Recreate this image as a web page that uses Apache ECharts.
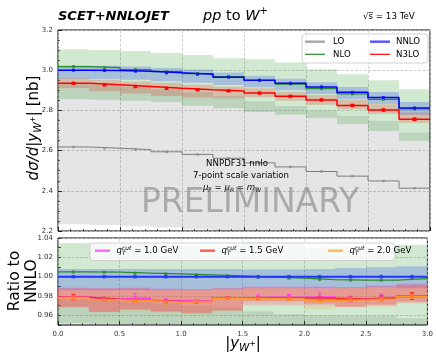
<!DOCTYPE html>
<html>
<head>
<meta charset="utf-8">
<script src="https://cdn.jsdelivr.net/npm/echarts@6/dist/echarts.min.js"></script>
<style>
  html, body { margin: 0; padding: 0; background: #fff; }
  #chart { width: 436px; height: 353px; }
</style>
</head>
<body>
<div id="chart"></div>
<script>
// |y_W+| bins
const binEdges = [0, 0.25, 0.5, 0.75, 1.0, 1.25, 1.5, 1.75, 2.0, 2.25, 2.5, 2.75, 3.0];

// upper panel: dsigma/d|y| [nb], central values and 7-point scale bands
const lo     = [2.618, 2.612, 2.605, 2.594, 2.581, 2.562, 2.539, 2.519, 2.496, 2.473, 2.449, 2.413];
const loUp   = [2.930, 2.925, 2.918, 2.905, 2.890, 2.870, 2.845, 2.822, 2.800, 2.773, 2.748, 2.690];
const loDn   = [2.234, 2.230, 2.224, 2.217, 2.208, 2.190, 2.170, 2.150, 2.130, 2.110, 2.090, 2.060];
const nlo    = [3.018, 3.013, 3.003, 2.993, 2.983, 2.968, 2.949, 2.931, 2.908, 2.882, 2.855, 2.807];
const nloUp  = [3.104, 3.101, 3.096, 3.085, 3.076, 3.060, 3.055, 3.038, 3.005, 2.980, 2.950, 2.905];
const nloDn  = [2.856, 2.853, 2.848, 2.840, 2.823, 2.811, 2.792, 2.778, 2.762, 2.731, 2.698, 2.648];
const nnlo   = [3.000, 2.998, 2.995, 2.987, 2.980, 2.965, 2.950, 2.935, 2.917, 2.890, 2.864, 2.812];
const nnloUp = [3.024, 3.022, 3.019, 3.011, 3.004, 2.989, 2.972, 2.957, 2.940, 2.916, 2.892, 2.842];
const nnloDn = [2.958, 2.956, 2.953, 2.945, 2.938, 2.926, 2.915, 2.900, 2.882, 2.855, 2.832, 2.778];
const n3lo   = [2.935, 2.927, 2.919, 2.910, 2.903, 2.897, 2.886, 2.870, 2.852, 2.825, 2.802, 2.756];
const n3loUp = [2.960, 2.953, 2.944, 2.937, 2.928, 2.919, 2.910, 2.893, 2.876, 2.852, 2.830, 2.789];
const n3loDn = [2.910, 2.895, 2.884, 2.872, 2.864, 2.861, 2.866, 2.848, 2.828, 2.806, 2.783, 2.739];
const n3loErr = [0.004, 0.004, 0.004, 0.004, 0.004, 0.003, 0.004, 0.004, 0.004, 0.004, 0.005, 0.006];

// lower panel: ratio to NNLO
const loRUp   = [0.977, 0.9757, 0.974, 0.9725, 0.970, 0.968, 0.964, 0.961, 0.960, 0.9595, 0.9595, 0.957];
const loRDn   = [0.745, 0.744, 0.743, 0.742, 0.741, 0.739, 0.736, 0.733, 0.730, 0.730, 0.730, 0.733];
const nloR    = [1.0049, 1.0046, 1.0037, 1.0028, 1.0018, 1.0008, 0.9995, 0.9985, 0.9970, 0.9964, 0.9964, 0.9980];
const nloRUp  = [1.0347, 1.0344, 1.0337, 1.0328, 1.0322, 1.0320, 1.0356, 1.0351, 1.0302, 1.0311, 1.0300, 1.0331];
const nloRDn  = [0.9520, 0.9516, 0.9510, 0.9510, 0.9473, 0.9480, 0.9464, 0.9465, 0.9480, 0.9450, 0.9420, 0.9420];
const nnloR   = [1, 1, 1, 1, 1, 1, 1, 1, 1, 1, 1, 1];
const nnloRUp = [1.008, 1.008, 1.008, 1.008, 1.008, 1.008, 1.0075, 1.0075, 1.008, 1.009, 1.0097, 1.0107];
const nnloRDn = [0.986, 0.986, 0.986, 0.986, 0.986, 0.987, 0.988, 0.988, 0.988, 0.988, 0.989, 0.988];

// N3LO / NNLO for three qT-cut values
const q10R    = [0.9788, 0.9768, 0.9779, 0.9752, 0.9745, 0.9779, 0.9786, 0.9786, 0.9790, 0.9769, 0.9786, 0.9796];
const q10Err  = [0.0030, 0.0020, 0.0045, 0.0020, 0.0020, 0.0012, 0.0025, 0.0030, 0.0040, 0.0030, 0.0035, 0.0030];
const q10RUp  = [0.989, 0.988, 0.989, 0.988, 0.987, 0.988, 0.990, 0.990, 0.990, 0.989, 0.991, 0.993];
const q10RDn  = [0.968, 0.964, 0.966, 0.964, 0.963, 0.965, 0.971, 0.971, 0.970, 0.969, 0.970, 0.973];
const q15R    = [0.9786, 0.9766, 0.9757, 0.9742, 0.9744, 0.9779, 0.9779, 0.9779, 0.9778, 0.9769, 0.9779, 0.9800];
const q15Err  = [0.0028, 0.0020, 0.0020, 0.0020, 0.0015, 0.0012, 0.0015, 0.0020, 0.0020, 0.0020, 0.0025, 0.0035];
const q15RUp  = [0.988, 0.988, 0.988, 0.987, 0.987, 0.988, 0.989, 0.989, 0.989, 0.989, 0.990, 0.992];
const q15RDn  = [0.969, 0.9635, 0.966, 0.964, 0.962, 0.965, 0.9745, 0.9745, 0.972, 0.969, 0.971, 0.974];
const q20R    = [0.9781, 0.9760, 0.9752, 0.9737, 0.9744, 0.9776, 0.9772, 0.9772, 0.9751, 0.9762, 0.9769, 0.9796];
const q20Err  = [0.0020, 0.0015, 0.0020, 0.0020, 0.0015, 0.0010, 0.0015, 0.0020, 0.0020, 0.0020, 0.0020, 0.0020];
const q20RUp  = [0.987, 0.986, 0.986, 0.986, 0.986, 0.987, 0.988, 0.988, 0.987, 0.988, 0.989, 0.991];
const q20RDn  = [0.968, 0.963, 0.964, 0.963, 0.962, 0.964, 0.970, 0.970, 0.966, 0.968, 0.969, 0.972];

const FONT = 'DejaVu Sans';
const centers = binEdges.slice(0, -1).map((e, i) => (e + binEdges[i + 1]) / 2);

// histogram outline: one point per left bin edge plus the closing right edge
function stepData(vals) {
  const d = vals.map((v, i) => [binEdges[i], v]);
  d.push([binEdges[binEdges.length - 1], vals[vals.length - 1]]);
  return d;
}

function stepLine(vals, color, width, gi, z) {
  return {
    type: 'line', step: 'end', xAxisIndex: gi, yAxisIndex: gi,
    data: stepData(vals), showSymbol: false, symbol: 'none',
    lineStyle: { color: color, width: width }, z: z, silent: true, animation: false
  };
}

// filled step band between two per-bin arrays, clipped to the grid
function band(lower, upper, color, gi, z) {
  return {
    type: 'custom', xAxisIndex: gi, yAxisIndex: gi, z: z, silent: true, animation: false,
    data: [[binEdges[0], upper[0]]],
    renderItem: function (params, api) {
      const cs = params.coordSys;
      const cy = y => Math.min(cs.y + cs.height, Math.max(cs.y, y));
      const pts = [];
      upper.forEach((v, i) => {
        const a = api.coord([binEdges[i], v]);
        const b = api.coord([binEdges[i + 1], v]);
        pts.push([a[0], cy(a[1])], [b[0], cy(b[1])]);
      });
      for (let i = lower.length - 1; i >= 0; i--) {
        const b = api.coord([binEdges[i + 1], lower[i]]);
        const a = api.coord([binEdges[i], lower[i]]);
        pts.push([b[0], cy(b[1])], [a[0], cy(a[1])]);
      }
      return { type: 'polygon', shape: { points: pts }, style: { fill: color } };
    }
  };
}

function markers(vals, color, size, gi, z) {
  return {
    type: 'scatter', xAxisIndex: gi, yAxisIndex: gi, z: z, silent: true, animation: false,
    symbol: 'rect', symbolSize: size, itemStyle: { color: color },
    data: vals.map((v, i) => [centers[i], v])
  };
}

function errorBars(vals, errs, color, gi, z) {
  return {
    type: 'custom', xAxisIndex: gi, yAxisIndex: gi, z: z, silent: true, animation: false,
    encode: { x: 0, y: [1, 2] },
    data: vals.map((v, i) => [centers[i], v - errs[i], v + errs[i]]),
    renderItem: function (params, api) {
      const a = api.coord([api.value(0), api.value(1)]);
      const b = api.coord([api.value(0), api.value(2)]);
      const w = 2;
      const st = { stroke: color, lineWidth: 1 };
      return {
        type: 'group', children: [
          { type: 'line', shape: { x1: a[0], y1: a[1], x2: b[0], y2: b[1] }, style: st },
          { type: 'line', shape: { x1: a[0] - w, y1: a[1], x2: a[0] + w, y2: a[1] }, style: st },
          { type: 'line', shape: { x1: b[0] - w, y1: b[1], x2: b[0] + w, y2: b[1] }, style: st }
        ]
      };
    }
  };
}

// text with sub/superscripts laid out piece by piece
const measureCtx = document.createElement('canvas').getContext('2d');
function measure(t, size, it, b) {
  measureCtx.font = (it ? 'italic ' : '') + (b ? 'bold ' : '') + size + 'px "' + FONT + '"';
  return measureCtx.measureText(t).width;
}
function mathText(parts, base, opt) {
  const kids = [];
  let x = 0;
  const color = opt.color || '#000';
  const mk = (t, size, it, b, dx, dy) => ({
    type: 'text', x: dx, y: dy, z: 101, silent: true,
    style: {
      text: t, fontSize: size, fontFamily: FONT,
      fontStyle: it ? 'italic' : 'normal', fontWeight: b ? 'bold' : 'normal',
      fill: color, align: 'left', verticalAlign: 'middle'
    }
  });
  parts.forEach(p => {
    const size = p.size || base;
    if (p.sup !== undefined) {
      kids.push(mk(p.sup, size, p.it, false, x, p.up));
      kids.push(mk(p.sub, size, p.it, false, x, p.dn));
      x += Math.max(measure(p.sup, size, p.it), measure(p.sub, size, p.it));
    } else {
      kids.push(mk(p.t, size, p.it, p.b, x, p.dy || 0));
      x += measure(p.t, size, p.it, p.b);
    }
  });
  const off = opt.align === 'center' ? -x / 2 : 0;
  kids.forEach(k => { k.x += off; });
  return { type: 'group', x: opt.x, y: opt.y, rotation: opt.rotation || 0, z: 101, silent: true, children: kids };
}

function plainText(t, x, y, size, opt) {
  opt = opt || {};
  return {
    type: 'text', x: x, y: y, z: 101, silent: true,
    style: {
      text: t, fontSize: size, fontFamily: FONT,
      fontStyle: opt.it ? 'italic' : 'normal', fontWeight: opt.b ? 'bold' : 'normal',
      fill: opt.color || '#000', align: opt.align || 'left', verticalAlign: 'middle'
    }
  };
}

function legendLine(x1, x2, y, color, width) {
  return { type: 'line', z: 101, silent: true, shape: { x1: x1, y1: y, x2: x2, y2: y }, style: { stroke: color, lineWidth: width } };
}

function legendBox(x, y, w, h) {
  return {
    type: 'rect', z: 99, silent: true,
    shape: { x: x, y: y, width: w, height: h, r: 3 },
    style: { fill: 'rgba(255,255,255,0.8)', stroke: '#d0d0d0', lineWidth: 1 }
  };
}

const gridLine = { show: true, lineStyle: { color: '#c4c4c4', width: 0.8, type: [3, 1.5] } };

const xAxisBase = (gi, labels) => ({
  type: 'value', gridIndex: gi, min: 0, max: 3, interval: 0.5,
  axisLine: { show: false },
  axisTick: { show: true, inside: true, length: 4, lineStyle: { color: '#000', width: 0.8 } },
  minorTick: { show: true, splitNumber: 5, length: 2, lineStyle: { color: '#000', width: 0.6 } },
  axisLabel: { show: labels, fontSize: 7, color: '#333', fontFamily: FONT, margin: 6, formatter: v => v.toFixed(1) },
  splitLine: gridLine
});

const C = {
  lo: '#7c7c7c', nlo: '#2b8a2b', nnlo: '#0000ff', n3lo: '#ff0000',
  mag: '#ff3cff', red: '#ff2b2b', org: '#ff9a28'
};

const option = {
  animation: false,
  textStyle: { fontFamily: FONT },
  grid: [
    { left: 58, top: 30, width: 372, height: 201, show: true, borderColor: '#000', borderWidth: 1, backgroundColor: 'transparent' },
    { left: 58, top: 238, width: 372, height: 87, show: true, borderColor: '#000', borderWidth: 1, backgroundColor: 'transparent' }
  ],
  xAxis: [xAxisBase(0, false), xAxisBase(1, true)],
  yAxis: [
    {
      type: 'value', gridIndex: 0, min: 2.2, max: 3.2, interval: 0.2,
      axisLine: { show: false },
      axisTick: { show: true, inside: true, length: 4, lineStyle: { color: '#000', width: 0.8 } },
      minorTick: { show: true, splitNumber: 4, length: 2, lineStyle: { color: '#000', width: 0.6 } },
      axisLabel: { fontSize: 7, color: '#333', fontFamily: FONT, margin: 5, formatter: v => v.toFixed(1) },
      splitLine: gridLine
    },
    {
      type: 'value', gridIndex: 1, min: 0.95, max: 1.04, interval: 0.01,
      axisLine: { show: false },
      axisTick: { show: true, inside: true, length: 3, lineStyle: { color: '#000', width: 0.7 } },
      axisLabel: {
        fontSize: 7, color: '#333', fontFamily: FONT, margin: 5,
        formatter: v => (Math.round(v * 100) % 2 === 0 ? v.toFixed(2) : '')
      },
      splitLine: { show: true, lineStyle: { color: ['rgba(0,0,0,0)', '#c4c4c4'], width: 0.8, type: [3, 1.5] } }
    }
  ],
  series: [
    // upper panel
    band(loDn, loUp, 'rgba(0,0,0,0.10)', 0, 1),
    band(nloDn, nloUp, 'rgba(0,128,0,0.18)', 0, 2),
    band(nnloDn, nnloUp, 'rgba(40,70,240,0.25)', 0, 3),
    band(n3loDn, n3loUp, 'rgba(220,40,20,0.22)', 0, 4),
    stepLine(lo, C.lo, 1, 0, 5),
    stepLine(nlo, C.nlo, 1.2, 0, 5),
    stepLine(nnlo, C.nnlo, 1.5, 0, 6),
    stepLine(n3lo, C.n3lo, 1.5, 0, 6),
    markers(lo, '#8a8a8a', 2.5, 0, 7),
    markers(nlo, C.nlo, 3, 0, 7),
    markers(nnlo, C.nnlo, 3, 0, 7),
    errorBars(n3lo, n3loErr, C.n3lo, 0, 7),
    markers(n3lo, C.n3lo, 3.5, 0, 8),

    // lower panel
    band(loRDn, loRUp, 'rgba(0,0,0,0.10)', 1, 1),
    band(nloRDn, nloRUp, 'rgba(0,128,0,0.18)', 1, 2),
    band(nnloRDn, nnloRUp, 'rgba(40,70,240,0.25)', 1, 3),
    band(q10RDn, q10RUp, 'rgba(255,0,255,0.14)', 1, 4),
    band(q15RDn, q15RUp, 'rgba(255,30,30,0.25)', 1, 4),
    band(q20RDn, q20RUp, 'rgba(255,150,0,0.14)', 1, 4),
    stepLine(nloR, C.nlo, 1.2, 1, 5),
    stepLine(nnloR, '#1f33ff', 2, 1, 5),
    stepLine(q10R, C.mag, 1.5, 1, 6),
    stepLine(q15R, C.red, 1.5, 1, 6),
    stepLine(q20R, C.org, 1.5, 1, 6),
    markers(nloR, C.nlo, 3, 1, 7),
    markers(nnloR, '#1f33ff', 3.5, 1, 7),
    errorBars(q10R, q10Err, C.mag, 1, 7),
    markers(q10R, C.mag, 3, 1, 8),
    errorBars(q15R, q15Err, C.red, 1, 7),
    markers(q15R, C.red, 3, 1, 8),
    errorBars(q20R, q20Err, C.org, 1, 7),
    markers(q20R, C.org, 3, 1, 8)
  ],
  graphic: [
    // header
    plainText('SCET+NNLOJET', 58, 16.5, 13, { it: true, b: true }),
    mathText([{ t: 'pp', it: true }, { t: ' to ' }, { t: 'W', it: true }, { t: '+', size: 10, dy: -5 }], 14.5, { x: 203, y: 16 }),
    plainText('\u221As\u0305 = 13 TeV', 363, 16.5, 8.7),

    // annotation inside the upper panel
    plainText('NNPDF31 nnlo', 237, 163.5, 8.6, { align: 'center' }),
    plainText('7-point scale variation', 241, 176, 8.6, { align: 'center' }),
    mathText([
      { t: '\u03BC', it: true }, { t: 'F', it: true, size: 6, dy: 2.5 }, { t: ' = ' },
      { t: '\u03BC', it: true }, { t: 'R', it: true, size: 6, dy: 2.5 }, { t: ' = ' },
      { t: 'm', it: true }, { t: 'W', it: true, size: 6, dy: 2.5 }
    ], 8.6, { x: 232, y: 187.5, align: 'center' }),
    plainText('PRELIMINARY', 250, 203, 33, { align: 'center', color: 'rgba(120,120,120,0.55)' }),

    // axis titles
    mathText([
      { t: 'd\u03C3/d', it: true }, { t: '|' }, { t: 'y', it: true },
      { t: 'W', it: true, size: 10.5, dy: 3.8 }, { t: '+', size: 7.5, dy: -0.5 }, { t: '| [nb]' }
    ], 15, { x: 34, y: 128, rotation: Math.PI / 2, align: 'center' }),
    mathText([{ t: 'Ratio to' }], 15.5, { x: 15, y: 281, rotation: Math.PI / 2, align: 'center' }),
    mathText([{ t: 'NNLO' }], 15.5, { x: 32, y: 281, rotation: Math.PI / 2, align: 'center' }),
    mathText([
      { t: '|' }, { t: 'y', it: true }, { t: 'W', it: true, size: 10.5, dy: 4 }, { t: '+', size: 7.5, dy: 0 }, { t: '|' }
    ], 15, { x: 243, y: 344, align: 'center' }),

    // upper legend
    legendBox(302, 34, 126, 29),
    legendLine(305, 325, 41.7, '#aaaaaa', 2.5),
    plainText('LO', 333, 42, 8.6),
    legendLine(370, 390, 41.7, '#5a5aff', 2.5),
    plainText('NNLO', 396, 42, 8.6),
    legendLine(305, 325, 54.3, C.nlo, 1.2),
    plainText('NLO', 333, 54.5, 8.6),
    legendLine(370, 390, 54.3, C.n3lo, 1.2),
    plainText('N3LO', 396, 54.5, 8.6),

    // lower legend
    legendBox(90, 243, 305, 17.5),
    legendLine(95, 110, 250.7, '#ff66ff', 2.5),
    mathText([{ t: 'q', it: true }, { sup: 'cut', sub: 'T', it: true, size: 6, up: -3, dn: 2.5 }, { t: ' = 1.0 GeV' }], 8.6, { x: 116.5, y: 251 }),
    legendLine(200, 215, 250.7, '#ff6060', 2.5),
    mathText([{ t: 'q', it: true }, { sup: 'cut', sub: 'T', it: true, size: 6, up: -3, dn: 2.5 }, { t: ' = 1.5 GeV' }], 8.6, { x: 221.5, y: 251 }),
    legendLine(328, 343, 250.7, '#ffb860', 2.5),
    mathText([{ t: 'q', it: true }, { sup: 'cut', sub: 'T', it: true, size: 6, up: -3, dn: 2.5 }, { t: ' = 2.0 GeV' }], 8.6, { x: 349.5, y: 251 })
  ]
};

const chart = echarts.init(document.getElementById('chart'), null, { renderer: 'canvas' });
chart.setOption(option);
</script>
</body>
</html>
